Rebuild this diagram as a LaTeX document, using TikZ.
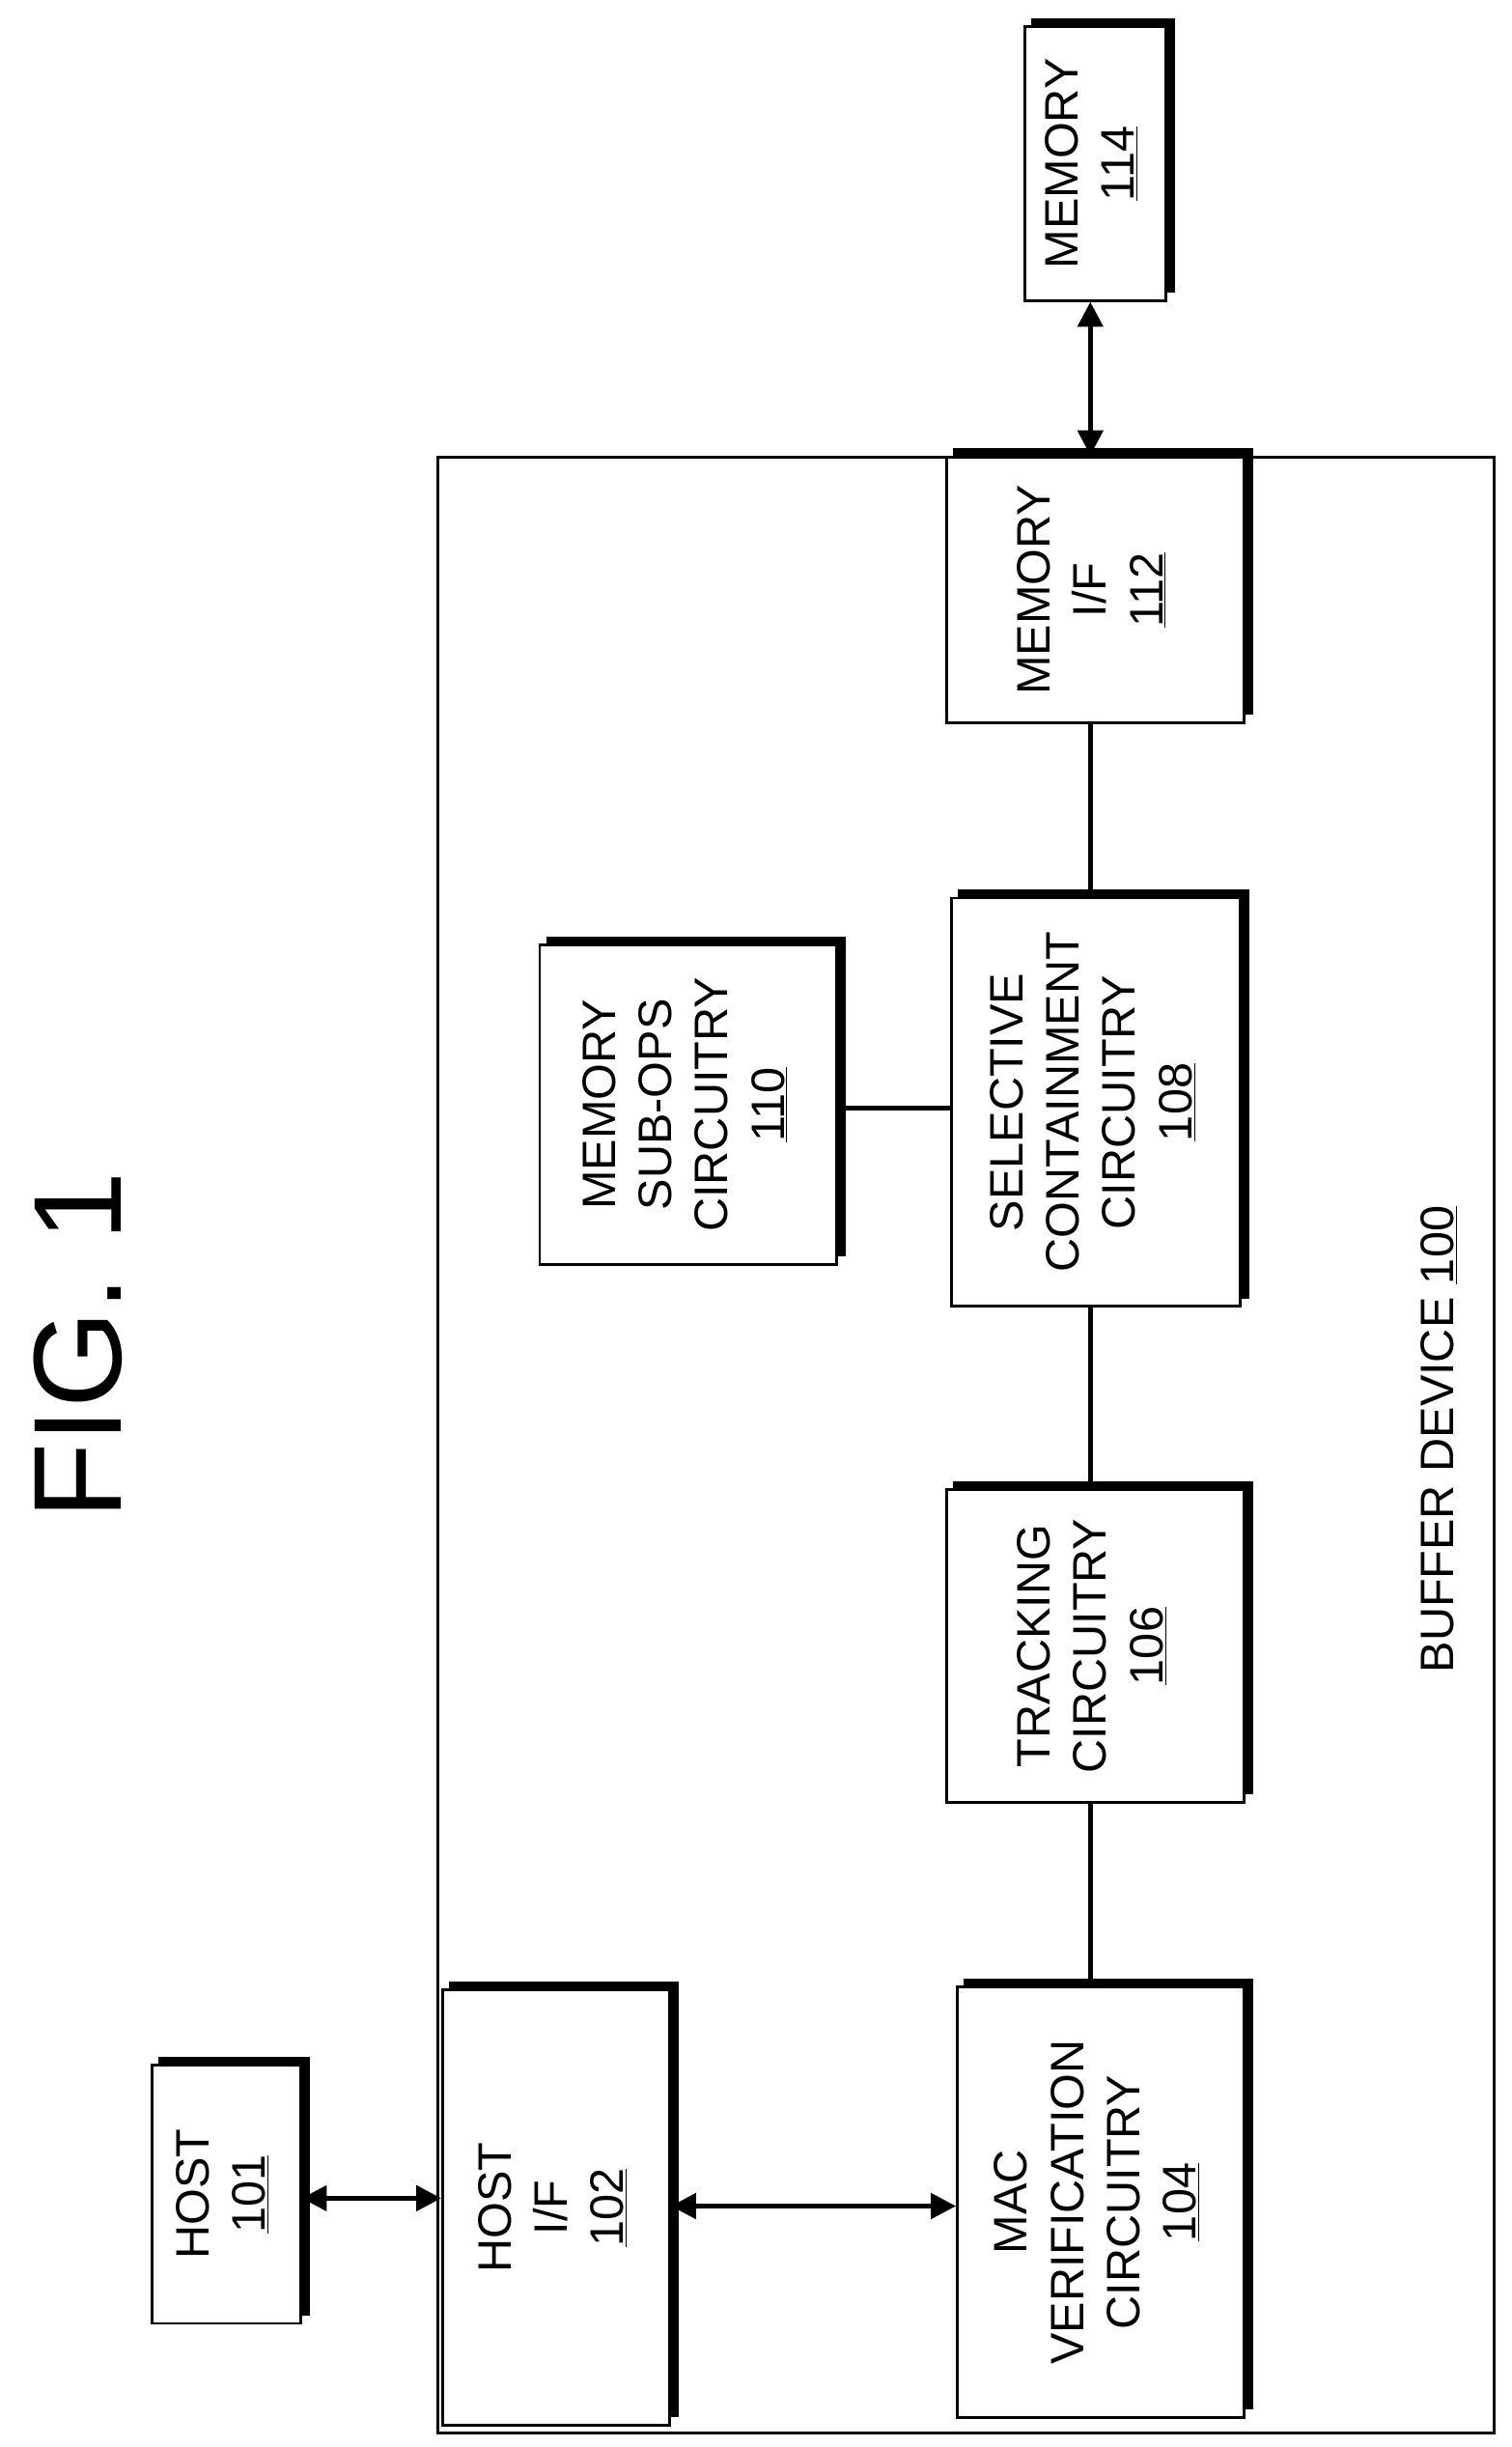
\documentclass[tikz,border=0pt]{standalone}
\usepackage{fontspec}
\setmainfont{Liberation Sans}
\usetikzlibrary{arrows.meta}
\begin{document}
\begin{tikzpicture}[x=1pt,y=-1pt,
  blk/.style={draw,line width=1.8pt,inner sep=0pt,font=\fontsize{30}{36}\selectfont},
  con/.style={line width=3pt},
  arr/.style={line width=3pt,{Triangle[length=16pt,width=16pt]}-{Triangle[length=16pt,width=16pt]}}]
\useasboundingbox (0,0) rectangle (966,1564);
\newcommand{\mkblk}[6]{%
  \node[blk,minimum width={#4-#2},minimum height={#5-#3}] (#1) at ({(#2+#4)/2},{(#3+#5)/2})
    {\rotatebox{90}{\begin{tabular}{c}#6\end{tabular}}};
  \draw[line width=5pt] ([xshift=5pt,yshift=2pt]#1.north west) -- ([xshift=2.5pt,yshift=2pt]#1.north east)
     -- ([xshift=2.5pt,yshift=6pt]#1.south east);}
\node[draw,line width=1.8pt,minimum width=675pt,minimum height=1263pt,inner sep=0pt] (buf) at (617.5,923.5) {};
\mkblk{mem}{655}{17}{745}{192}{MEMORY\\\underline{114}}
\mkblk{mif}{605}{292}{795}{462}{MEMORY\\I/F\\\underline{112}}
\mkblk{sub}{345}{604}{535}{808}{MEMORY\\SUB-OPS\\CIRCUITRY\\\underline{110}}
\mkblk{sel}{608}{574}{793}{835}{SELECTIVE\\CONTAINMENT\\CIRCUITRY\\\underline{108}}
\mkblk{trk}{605}{952}{795}{1152}{TRACKING\\CIRCUITRY\\\underline{106}}
\mkblk{mac}{612}{1270}{795}{1545}{MAC\\VERIFICATION\\CIRCUITRY\\\underline{104}}
\mkblk{hif}{283}{1272}{428}{1550}{HOST\\I/F\\\underline{102}}
\mkblk{host}{97}{1320}{192}{1485}{HOST\\\underline{101}}
\node[rotate=90,font=\fontsize{80}{90}\selectfont] (fig) at (50,860) {FIG. 1};
\node[rotate=90,font=\fontsize{30}{36}\selectfont] (bl) at (920,920) {BUFFER DEVICE \underline{100}};
\draw[arr] (host.east |- 0,1405) -- (hif.west |- 0,1405);
\draw[arr] (hif.east |- 0,1410) -- (mac.west |- 0,1410);
\draw[con] (mac.north -| 697,0) -- (trk.south -| 697,0);
\draw[con] (trk.north -| 697,0) -- (sel.south -| 697,0);
\draw[con] (sel.north -| 697,0) -- (mif.south -| 697,0);
\draw[con] (sub.east |- 0,708) -- (sel.west |- 0,708);
\draw[arr] (mem.south -| 697,0) -- (mif.north -| 697,0);
\end{tikzpicture}
\end{document}
